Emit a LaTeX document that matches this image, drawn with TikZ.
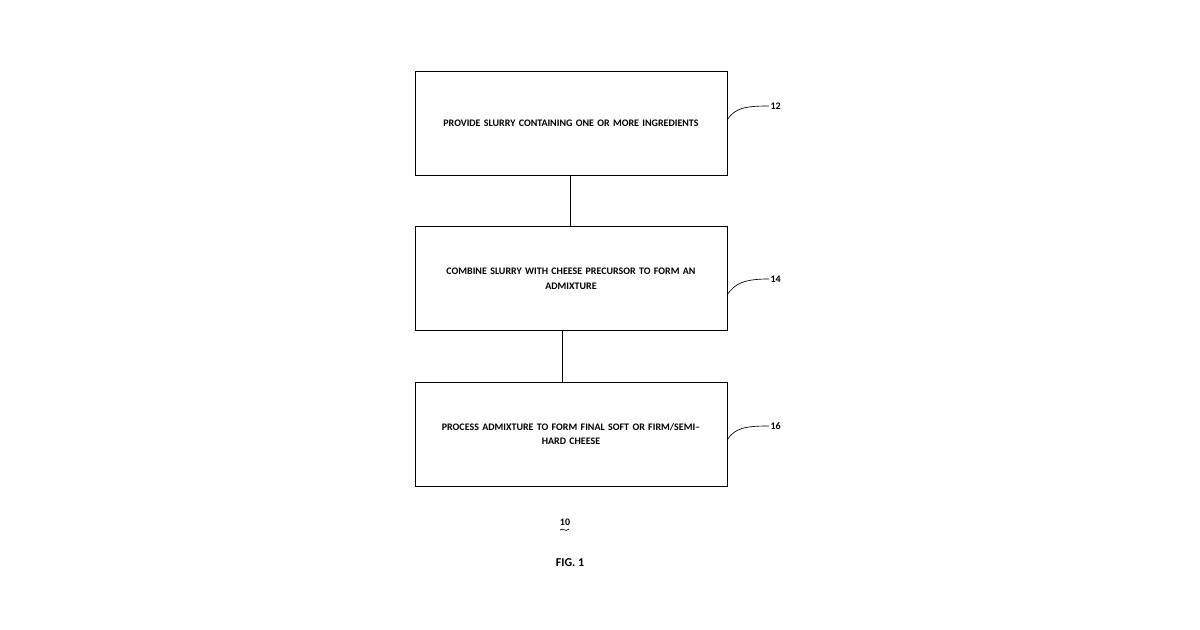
\documentclass[tikz,border=0pt]{standalone}
\usepackage{fontspec}
\setmainfont{Carlito}
\begin{document}
\begin{tikzpicture}[x=0.75pt,y=-0.75pt,
  box/.style={draw,line width=0.7pt,minimum width=312*0.75pt,minimum height=104*0.75pt,align=center,text width=300*0.75pt,font=\fontsize{7.5}{11}\selectfont\bfseries,inner sep=0pt},
  lbl/.style={font=\fontsize{7.5}{9}\selectfont\bfseries,inner sep=1pt},
  lead/.style={line width=0.5pt}]
\useasboundingbox (0,0) rectangle (1200,630);
\node[box] (b1) at (571,123) {PROVIDE SLURRY CONTAINING ONE OR MORE INGREDIENTS};
\node[box] (b2) at (571,278.5) {COMBINE SLURRY WITH CHEESE PRECURSOR TO FORM AN\\ADMIXTURE};
\node[box] (b3) at (571,434) {PROCESS ADMIXTURE TO FORM FINAL SOFT OR FIRM/SEMI--\\HARD CHEESE};
\draw[line width=0.7pt] (570,175) -- (570,227);
\draw[line width=0.7pt] (562,330) -- (562,382);
\node[lbl,anchor=west] (l12) at (769,106) {12};
\node[lbl,anchor=west] (l14) at (769,279) {14};
\node[lbl,anchor=west] (l16) at (769,426) {16};
\coordinate (c1) at (727,120);
\coordinate (c2) at (727,295);
\coordinate (c3) at (727,440);
\draw[lead] (c1) .. controls (735,108) and (745,106) .. (l12.west);
\draw[lead] (c2) .. controls (735,283) and (745,279) .. (l14.west);
\draw[lead] (c3) .. controls (735,428) and (745,426) .. (l16.west);
\node[lbl] (ten) at (565,522) {10};
\draw[line width=0.5pt] (560,530) .. controls (563,527) and (565,533) .. (569,529);
\node[font=\fontsize{9}{11}\selectfont\bfseries] (fig) at (570,563) {FIG. 1};
\end{tikzpicture}
\end{document}
